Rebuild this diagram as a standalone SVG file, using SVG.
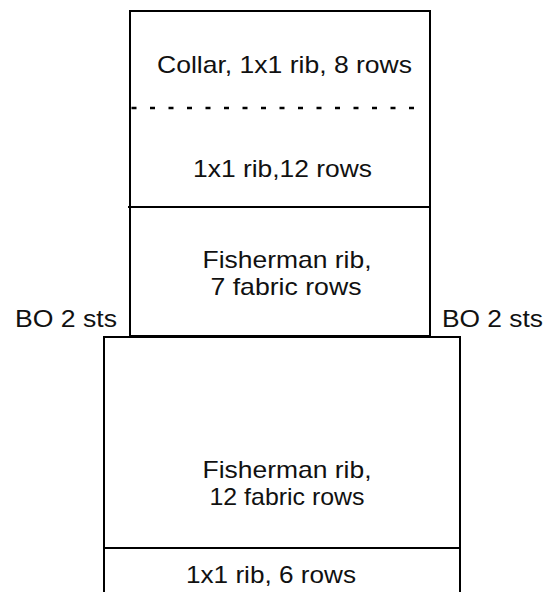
<svg xmlns="http://www.w3.org/2000/svg" width="558" height="592" viewBox="0 0 558 592">
<style>
.ln{stroke:#000;stroke-width:2;fill:none}
.dash{stroke:#000;stroke-width:2.5;stroke-dasharray:5 13.5;fill:none}
text{font-family:"Liberation Sans",Arial,sans-serif;font-size:24px;fill:#111}
.c{text-anchor:middle}
</style>
<rect width="558" height="592" fill="#fff"/>
<g id="connectors">
<line class="dash" x1="131.5" y1="108" x2="416" y2="108"/>
</g>
<g id="upper-body">
<rect class="ln" x="130" y="11" width="300" height="325"/>
<line class="ln" x1="128" y1="207" x2="430" y2="207"/>
</g>
<g id="collar">
<text class="c" x="284.5" y="73" textLength="255" lengthAdjust="spacingAndGlyphs">Collar, 1x1 rib, 8 rows</text>
</g>
<g id="rib12">
<text class="c" x="282.5" y="177" textLength="179" lengthAdjust="spacingAndGlyphs">1x1 rib,12 rows</text>
</g>
<g id="fisherman7">
<text class="c" x="287" y="268" textLength="169" lengthAdjust="spacingAndGlyphs">Fisherman rib,</text>
<text class="c" x="286" y="295" textLength="151" lengthAdjust="spacingAndGlyphs">7 fabric rows</text>
</g>
<g id="bo-left">
<text x="15" y="327" textLength="102" lengthAdjust="spacingAndGlyphs">BO 2 sts</text>
</g>
<g id="bo-right">
<text x="442" y="327" textLength="101" lengthAdjust="spacingAndGlyphs">BO 2 sts</text>
</g>
<g id="lower-body">
<rect class="ln" x="104" y="337" width="356" height="270"/>
<line class="ln" x1="104" y1="548" x2="460" y2="548"/>
</g>
<g id="fisherman12">
<text class="c" x="287" y="478" textLength="169" lengthAdjust="spacingAndGlyphs">Fisherman rib,</text>
<text class="c" x="287" y="505" textLength="155" lengthAdjust="spacingAndGlyphs">12 fabric rows</text>
</g>
<g id="rib6">
<text class="c" x="271" y="583" textLength="170" lengthAdjust="spacingAndGlyphs">1x1 rib, 6 rows</text>
</g>
</svg>
